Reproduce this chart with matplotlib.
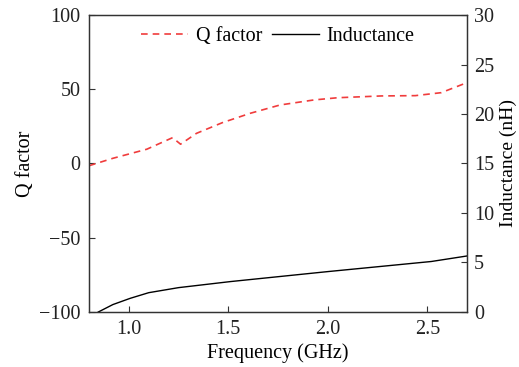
import numpy as np
import matplotlib.pyplot as plt

plt.rcParams['font.family'] = ['Liberation Serif', 'DejaVu Serif']
plt.rcParams['font.size'] = 14.5
plt.rcParams['mathtext.fontset'] = 'stix'

# Q factor (left axis)
freq_q = [0.80, 0.92, 1.09, 1.22, 1.26, 1.34, 1.47, 1.61, 1.76, 1.93, 2.05, 2.27, 2.44, 2.57, 2.70]
q_factor = [-1.5, 3.5, 9.6, 17.4, 13.0, 20.3, 27.5, 33.8, 39.4, 42.8, 44.3, 45.5, 45.7, 47.7, 54.5]

# Inductance in nH (right axis)
freq_l = [0.80, 0.847, 0.92, 1.007, 1.10, 1.25, 1.51, 2.0, 2.52, 2.70]
inductance = [-0.6, 0.0, 0.75, 1.38, 1.95, 2.46, 3.07, 4.08, 5.1, 5.66]

fig = plt.figure(figsize=(5.19, 3.67), dpi=100)
ax = fig.add_axes([0.1715, 0.1499, 0.7285, 0.8092])
ax2 = ax.twinx()

l1, = ax.plot(freq_q, q_factor, '--', color='#f03c3c', lw=1.2, dashes=(4, 3))
l2, = ax2.plot(freq_l, inductance, '-', color='black', lw=1.0)

ax.set_xlim(0.8, 2.7)
ax.set_ylim(-100, 100)
ax2.set_ylim(0, 30)
ax.set_xticks([1.0, 1.5, 2.0, 2.5])
ax.set_yticks([-100, -50, 0, 50, 100])
ax.set_yticklabels(['\u2212100', '\u221250', '0', '50', '100'])
ax2.set_yticks([0, 5, 10, 15, 20, 25, 30])

for a in (ax, ax2):
    a.tick_params(direction='in', length=4, width=0.8, pad=6,
                  colors='#333333', labelcolor='#222222')
    for s in a.spines.values():
        s.set_color('#333333')
        s.set_linewidth(0.9)
ax2.tick_params(pad=5)

ax.set_xlabel('Frequency (GHz)', labelpad=3)
ax.set_ylabel('Q factor', labelpad=3)
ax2.set_ylabel('Inductance (nH)', fontsize=14)
ax2.yaxis.set_label_coords(1.085, 0.5)

ax.legend([l1, l2], ['Q factor', 'Inductance'], loc='upper center', ncol=2,
          frameon=False, handlelength=2.3, columnspacing=0.5, handletextpad=0.4,
          bbox_to_anchor=(0.5, 1.02))

fig.savefig('out.png', dpi=100)
